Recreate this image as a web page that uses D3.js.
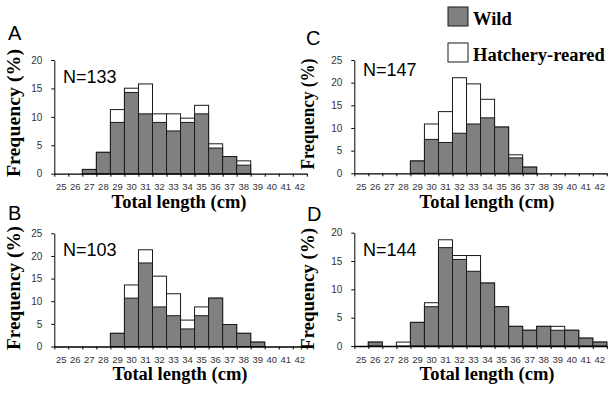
<!DOCTYPE html>
<html>
<head>
<meta charset="utf-8">
<script src="https://cdn.jsdelivr.net/npm/d3@7"></script>
<style>
  body { margin: 0; background: #fff; }
  svg { display: block; }
</style>
</head>
<body>
<svg id="chart" width="611" height="397"></svg>
<script>
// length bins (cm)
var bins = ["25","26","27","28","29","30","31","32","33","34","35","36","37","38","39","40","41","42"];

// frequency (%) - wild and wild+hatchery (stacked total)
var wildA  = [0,0,0.75,3.76,9.02,14.29,10.53,9.02,7.52,9.02,10.53,4.51,3.01,1.50,0,0,0,0];
var totalA = [0,0,0.75,3.76,11.28,15.04,15.79,10.53,10.53,9.77,12.03,5.26,3.01,2.26,0,0,0,0];
var wildB  = [0,0,0,0,2.91,10.68,18.45,8.74,6.80,3.88,6.80,10.68,4.85,2.91,0.97,0,0,0];
var totalB = [0,0,0,0,2.91,13.59,21.36,15.53,11.65,5.83,8.74,10.68,4.85,2.91,0.97,0,0,0];
var wildC  = [0,0,0,0,2.72,7.48,6.80,8.84,10.88,12.24,10.20,3.40,1.36,0,0,0,0,0];
var totalC = [0,0,0,0,2.72,10.88,13.61,21.09,19.73,16.33,10.20,4.08,1.36,0,0,0,0,0];
var wildD  = [0,0.69,0,0,4.17,6.94,17.36,15.28,13.19,11.11,6.94,3.47,2.78,3.47,2.78,2.78,1.39,0.69];
var totalD = [0,0.69,0,0.69,4.17,7.64,18.75,15.97,15.97,11.11,6.94,3.47,2.78,3.47,3.47,2.78,1.39,0.69];

var letters = ["A","B","C","D"];
var sampleSizes = ["N=133","N=103","N=147","N=144"];
var yMaxes = [20,25,25,20];
var legendLabels = ["Wild","Hatchery-reared"];

var svg = d3.select("#chart");
var grey = "#808080";
var plotW = 252.5;

// panel placement
var panels = [
  {wild: wildA, total: totalA, ax: 54.3,  zero: 173.7, top: 60,    letter: [8, 40],   n: [63, 83],   ylab: [20, 113, 128], xlab: [179, 208]},
  {wild: wildB, total: totalB, ax: 54.3,  zero: 346.5, top: 233.3, letter: [8, 220],  n: [63, 256],  ylab: [20, 288, 124], xlab: [180, 380]},
  {wild: wildC, total: totalC, ax: 354.3, zero: 173.3, top: 60,    letter: [306, 45], n: [363, 76],  ylab: [314, 114, 111], xlab: [487, 208]},
  {wild: wildD, total: totalD, ax: 354.3, zero: 346,   top: 232.7, letter: [307, 221],n: [363, 256], ylab: [314, 289, 122], xlab: [487, 380]}
];

panels.forEach(function(p, i) {
    var g = svg.append("g");

    var x = d3.scaleBand().domain(bins).range([p.ax, p.ax + plotW]).paddingInner(0).paddingOuter(0);
    var xEdge = d3.scaleLinear().domain([25, 43]).range([p.ax, p.ax + plotW]);
    var y = d3.scaleLinear().domain([0, yMaxes[i]]).range([p.zero, p.top]);

    var rows = bins.map(function(b, j) {
        return {bin: b, wild: p.wild[j], total: p.total[j]};
    });

    // hatchery part (white, full stack height)
    g.append("g").selectAll("rect")
        .data(rows.filter(function(d) { return d.total > 0; }))
        .enter().append("rect")
        .attr("x", function(d) { return x(d.bin); })
        .attr("width", x.bandwidth())
        .attr("y", function(d) { return y(d.total); })
        .attr("height", function(d) { return y(0) - y(d.total); })
        .attr("fill", "#fff")
        .attr("stroke", "#1a1a1a")
        .attr("stroke-width", 1);

    // wild part (grey)
    g.append("g").selectAll("rect")
        .data(rows.filter(function(d) { return d.wild > 0; }))
        .enter().append("rect")
        .attr("x", function(d) { return x(d.bin); })
        .attr("width", x.bandwidth())
        .attr("y", function(d) { return y(d.wild); })
        .attr("height", function(d) { return y(0) - y(d.wild); })
        .attr("fill", grey)
        .attr("stroke", "#1a1a1a")
        .attr("stroke-width", 1);

    // x axis: edge ticks + centred labels
    var edgeAxis = g.append("g")
        .attr("transform", "translate(0," + p.zero + ")")
        .call(d3.axisBottom(xEdge).tickValues(d3.range(25, 44)).tickSize(3).tickSizeOuter(0).tickFormat(""));
    edgeAxis.select(".domain").attr("stroke", "#000").attr("stroke-width", 1.3);

    var labAxis = g.append("g")
        .attr("transform", "translate(0," + p.zero + ")")
        .call(d3.axisBottom(x).tickSize(0).tickPadding(10));
    labAxis.select(".domain").remove();
    labAxis.selectAll("text")
        .attr("font-family", "Liberation Sans, Arial, sans-serif")
        .attr("font-size", 9.5)
        .attr("fill", "#333");

    // y axis
    var yAxis = g.append("g")
        .attr("transform", "translate(" + p.ax + ",0)")
        .call(d3.axisLeft(y).tickValues(d3.range(0, yMaxes[i] + 1, 5)).tickSize(3).tickSizeOuter(0).tickPadding(9));
    yAxis.select(".domain").attr("stroke", "#000");
    yAxis.selectAll("text")
        .attr("font-family", "Liberation Sans, Arial, sans-serif")
        .attr("font-size", 10)
        .attr("fill", "#333");

    // panel letter
    g.append("text")
        .attr("x", p.letter[0]).attr("y", p.letter[1])
        .attr("font-family", "Liberation Sans, Arial, sans-serif")
        .attr("font-size", 20)
        .text(letters[i]);

    // sample size
    g.append("text")
        .attr("x", p.n[0]).attr("y", p.n[1])
        .attr("font-family", "Liberation Sans, Arial, sans-serif")
        .attr("font-size", 18)
        .text(sampleSizes[i]);

    // axis titles
    g.append("text")
        .attr("transform", "translate(" + p.ylab[0] + "," + p.ylab[1] + ") rotate(-90)")
        .attr("text-anchor", "middle")
        .attr("font-family", "Liberation Serif, Times New Roman, serif")
        .attr("font-weight", "bold")
        .attr("font-size", 18.5)
        .attr("textLength", p.ylab[2])
        .attr("lengthAdjust", "spacingAndGlyphs")
        .text("Frequency (%)");

    g.append("text")
        .attr("x", p.xlab[0]).attr("y", p.xlab[1])
        .attr("text-anchor", "middle")
        .attr("font-family", "Liberation Serif, Times New Roman, serif")
        .attr("font-weight", "bold")
        .attr("font-size", 18.5)
        .text("Total length (cm)");
});

// legend
var legend = svg.append("g");
var legendY = [7, 43];
legend.selectAll("rect")
    .data(legendLabels)
    .enter().append("rect")
    .attr("x", 448)
    .attr("y", function(d, i) { return legendY[i]; })
    .attr("width", 20)
    .attr("height", 19)
    .attr("fill", function(d, i) { return i == 0 ? grey : "#fff"; })
    .attr("stroke", "#1a1a1a");

legend.selectAll("text")
    .data(legendLabels)
    .enter().append("text")
    .attr("x", 473)
    .attr("y", function(d, i) { return legendY[i] + 18; })
    .attr("font-family", "Liberation Serif, Times New Roman, serif")
    .attr("font-weight", "bold")
    .attr("font-size", 18.5)
    .text(function(d) { return d; });
</script>
</body>
</html>
